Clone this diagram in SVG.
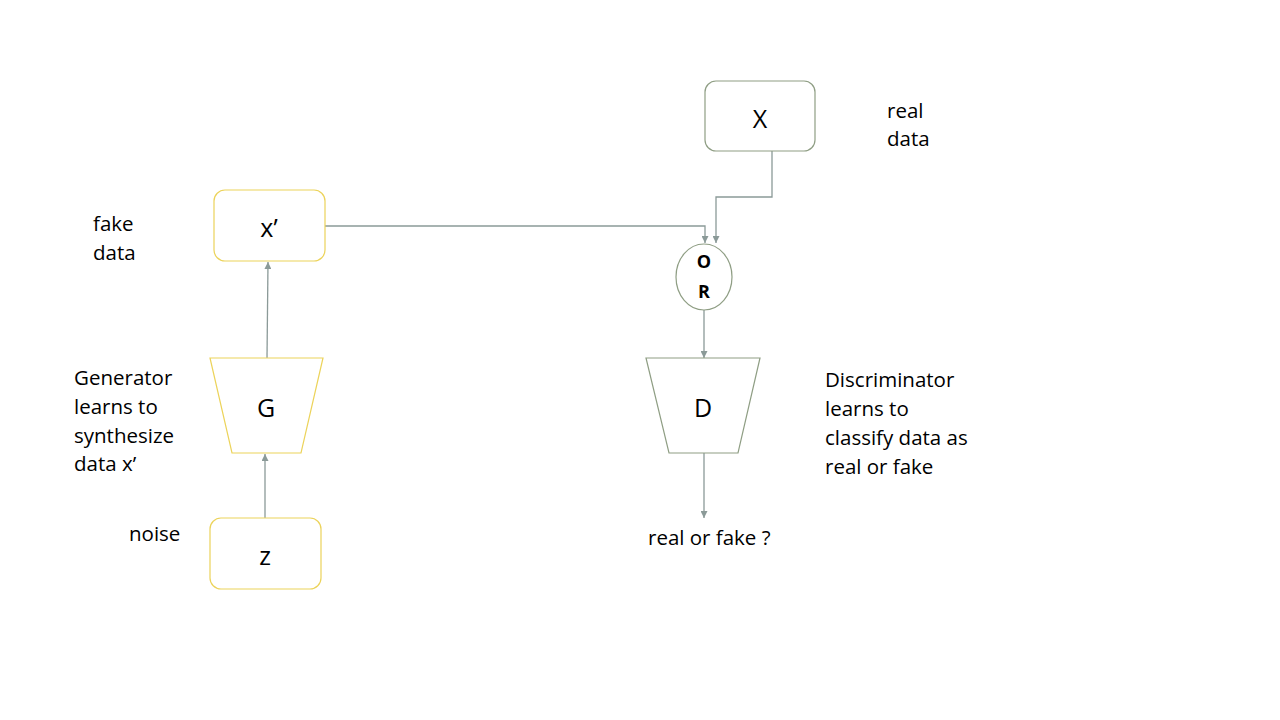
<svg xmlns="http://www.w3.org/2000/svg" width="1280" height="720" viewBox="0 0 1280 720">
<style>
.t{font-family:"Open Sans","Liberation Sans",sans-serif;font-size:20.5px;fill:#000}
.lbl{font-family:"Open Sans","Liberation Sans",sans-serif;font-size:25px;fill:#000;text-anchor:middle}
.or{font-family:"Open Sans","Liberation Sans",sans-serif;font-size:18px;font-weight:bold;fill:#000;text-anchor:middle}
.y{fill:#fff;stroke:#ecd35a;stroke-width:1.2}
.g{fill:#fff;stroke:#8f9e84;stroke-width:1.2}
.c{fill:none;stroke:#8b9a98;stroke-width:1.3}
</style>
<defs>
<marker id="ah" viewBox="0 0 10 10" refX="10" refY="5" markerWidth="7" markerHeight="7" markerUnits="userSpaceOnUse" orient="auto">
<path d="M0,0 L10,5 L0,10 z" fill="#8b9a98"/>
</marker>
</defs>
<rect width="1280" height="720" fill="#fff"/>
<g id="connectors">
<line class="c" x1="265" y1="518" x2="265" y2="454" marker-end="url(#ah)"/>
<line class="c" x1="267" y1="358" x2="268" y2="262" marker-end="url(#ah)"/>
<polyline class="c" points="325,226 705,226 705,243" marker-end="url(#ah)"/>
<polyline class="c" points="772,151 772,197 716,197 716,243" marker-end="url(#ah)"/>
<line class="c" x1="704" y1="310" x2="704" y2="358" marker-end="url(#ah)"/>
<line class="c" x1="704" y1="453" x2="704" y2="518" marker-end="url(#ah)"/>
</g>
<g id="node-X">
<rect class="g" x="705" y="81" width="110" height="70" rx="11"/>
<text class="lbl" x="760" y="128">X</text>
</g>
<g id="node-xprime">
<rect class="y" x="214" y="190" width="111" height="71" rx="11"/>
<text class="lbl" x="269" y="237">x’</text>
</g>
<g id="node-G">
<polygon class="y" points="210,358 323,358 301,453 232,453"/>
<text class="lbl" x="266" y="417">G</text>
</g>
<g id="node-z">
<rect class="y" x="210" y="518" width="111" height="71" rx="11"/>
<text class="lbl" x="265" y="565">z</text>
</g>
<g id="node-OR">
<ellipse class="g" cx="704" cy="277" rx="28" ry="33"/>
<text class="or" x="704" y="268">O</text>
<text class="or" x="704" y="298">R</text>
</g>
<g id="node-D">
<polygon class="g" points="646,358 760,358 738,453 669,453"/>
<text class="lbl" x="703" y="417">D</text>
</g>
<g id="labels">
<text class="t" x="887" y="118">real</text>
<text class="t" x="887" y="146">data</text>
<text class="t" x="93" y="231">fake</text>
<text class="t" x="93" y="260">data</text>
<text class="t" x="74" y="385">Generator</text>
<text class="t" x="74" y="414">learns to</text>
<text class="t" x="74" y="443">synthesize</text>
<text class="t" x="74" y="471">data x’</text>
<text class="t" x="129" y="541">noise</text>
<text class="t" x="825" y="387">Discriminator</text>
<text class="t" x="825" y="416">learns to</text>
<text class="t" x="825" y="445">classify data as</text>
<text class="t" x="825" y="474">real or fake</text>
<text class="t" x="648" y="545">real or fake ?</text>
</g>
</svg>
